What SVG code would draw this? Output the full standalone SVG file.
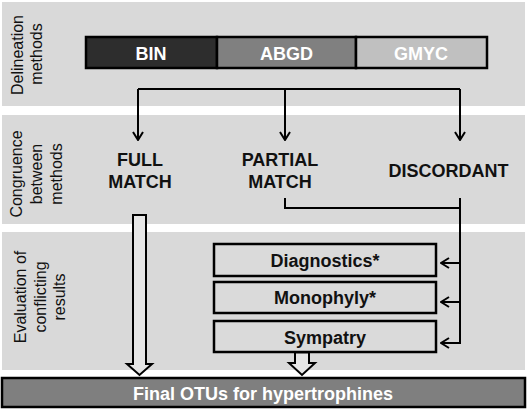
<svg xmlns="http://www.w3.org/2000/svg" width="528" height="409" viewBox="0 0 528 409">
<style>
.panel{fill:#d9d9d9}
.lab{font-family:"Liberation Sans",Arial,sans-serif;font-size:16px;fill:#111;text-anchor:middle}
.big{font-family:"Liberation Sans",Arial,sans-serif;font-size:18px;font-weight:bold;fill:#111;text-anchor:middle}
.wt{font-family:"Liberation Sans",Arial,sans-serif;font-size:18px;font-weight:bold;fill:#fff;text-anchor:middle}
.box{fill:#dadada;stroke:#000;stroke-width:2.5}
.ln{fill:none;stroke:#000;stroke-width:2}
.hollow{fill:#e6e6e6;stroke:#000;stroke-width:2;stroke-linejoin:miter}
</style>
<defs>
<marker id="ah" viewBox="0 0 10 12" refX="9" refY="6" markerWidth="10" markerHeight="12" markerUnits="userSpaceOnUse" orient="auto">
<path d="M1,1 L9,6 L1,11" fill="none" stroke="#000" stroke-width="2"/>
</marker>
</defs>
<rect width="528" height="409" fill="#fff"/>
<g id="panels">
<rect class="panel" x="2" y="2" width="523" height="104"/>
<rect class="panel" x="2" y="115" width="523" height="109"/>
<rect class="panel" x="2" y="232" width="523" height="138"/>
</g>
<g id="labels">
<text class="lab" transform="translate(22.5,55) rotate(-90)">Delineation</text>
<text class="lab" transform="translate(42,54) rotate(-90)">methods</text>
<text class="lab" transform="translate(22,174) rotate(-90)">Congruence</text>
<text class="lab" transform="translate(42,174) rotate(-90)">between</text>
<text class="lab" transform="translate(62,174) rotate(-90)">methods</text>
<text class="lab" transform="translate(26,297) rotate(-90)">Evaluation of</text>
<text class="lab" transform="translate(46,297) rotate(-90)">conflicting</text>
<text class="lab" transform="translate(65,297) rotate(-90)">results</text>
</g>
<g id="methods">
<g id="bin"><rect x="86" y="37" width="131" height="31" fill="#2d2d2d" stroke="#000" stroke-width="2.5"/><text class="wt" x="151" y="60">BIN</text></g>
<g id="abgd"><rect x="217" y="37" width="139" height="31" fill="#808080" stroke="#000" stroke-width="2.5"/><text class="wt" x="286.5" y="60">ABGD</text></g>
<g id="gmyc"><rect x="356" y="37" width="131" height="31" fill="#c0c0c0" stroke="#000" stroke-width="2.5"/><text class="wt" x="421" y="60">GMYC</text></g>
</g>
<g id="full"><text class="big" x="140" y="166">FULL</text><text class="big" x="140" y="188">MATCH</text></g>
<g id="partial"><text class="big" x="280" y="166">PARTIAL</text><text class="big" x="280" y="188">MATCH</text></g>
<g id="discordant"><text class="big" x="448.5" y="177">DISCORDANT</text></g>
<g id="diagnostics"><rect class="box" x="214" y="244" width="222" height="32"/><text class="big" x="325" y="267">Diagnostics*</text></g>
<g id="monophyly"><rect class="box" x="214" y="282" width="222" height="31"/><text class="big" x="325" y="304">Monophyly*</text></g>
<g id="sympatry"><rect class="box" x="214" y="321" width="222" height="31"/><text class="big" x="325" y="344">Sympatry</text></g>
<g id="final"><rect x="2" y="378" width="523" height="29" fill="#7f7f7f" stroke="#000" stroke-width="2.5"/><text class="wt" x="263" y="400">Final OTUs for hypertrophines</text></g>
<g id="connectors">
<path class="ln" d="M138,89 H460"/>
<path class="ln" d="M138,89 V140" marker-end="url(#ah)"/>
<path class="ln" d="M285,89 V140" marker-end="url(#ah)"/>
<path class="ln" d="M460,89 V140" marker-end="url(#ah)"/>
<path class="ln" d="M285,198 V208 H460"/>
<path class="ln" d="M460,198 V343 H441" marker-end="url(#ah)"/>
<path class="ln" d="M460,263 H441" marker-end="url(#ah)"/>
<path class="ln" d="M460,302 H441" marker-end="url(#ah)"/>
<path class="hollow" d="M133,215 H146 V364 H152 L139.5,375 L127,364 H133 Z"/>
<path class="hollow" d="M295,352.5 H309 V363 H315 L302,375 L289,363 H295 Z"/>
</g>
</svg>
